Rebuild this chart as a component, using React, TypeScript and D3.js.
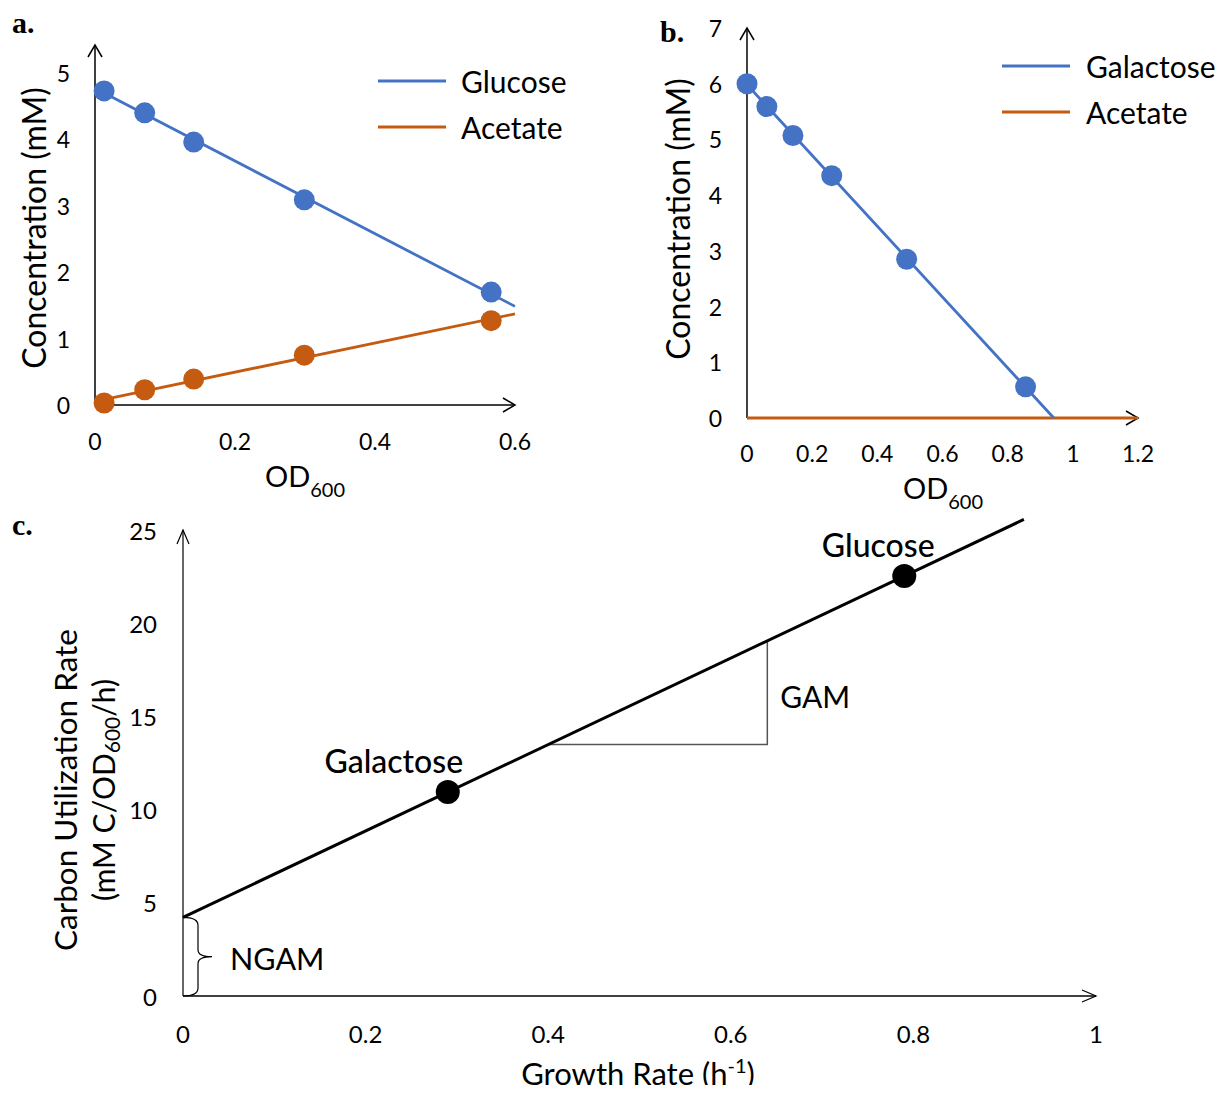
import React from 'react'
import * as d3 from 'd3'

const FONT = 'Lato, "Open Sans", sans-serif'
const SERIF = '"Liberation Serif", "DejaVu Serif", serif'
const BLUE = '#4472C4'
const ORANGE = '#C55A11'

// panel a: glucose culture
const odA = [0.013, 0.071, 0.141, 0.299, 0.566]
const glucoseA = [4.73, 4.4, 3.96, 3.09, 1.7]
const acetateA = [0.03, 0.23, 0.39, 0.75, 1.27]
const ticksAx = [0, 0.2, 0.4, 0.6]
const ticksAy = [0, 1, 2, 3, 4, 5]

// panel b: galactose culture
const odB = [0, 0.061, 0.141, 0.26, 0.49, 0.855]
const galactoseB = [6.0, 5.59, 5.07, 4.35, 2.85, 0.56]
const acetateB = [0, 0, 0, 0, 0, 0]
const ticksBx = [0, 0.2, 0.4, 0.6, 0.8, 1, 1.2]
const ticksBy = [0, 1, 2, 3, 4, 5, 6, 7]

// panel c: carbon uptake vs growth rate
const sources = ['Galactose', 'Glucose']
const growthRate = [0.29, 0.79]
const carbonRate = [10.94, 22.53]
const ticksCx = [0, 0.2, 0.4, 0.6, 0.8, 1]
const ticksCy = [0, 5, 10, 15, 20, 25]

const TICK = 23

// least squares line
const fit = (xs: number[], ys: number[]) => {
  const mx = d3.mean(xs) as number
  const my = d3.mean(ys) as number
  let sxy = 0
  let sxx = 0
  xs.forEach((x, i) => {
    sxy += (x - mx) * (ys[i] - my)
    sxx += (x - mx) ** 2
  })
  const m = sxx ? sxy / sxx : 0
  return { m, b: my - m * mx }
}

const line = d3.line<[number, number]>()

const Arrow = ({ x, y, dir, w = 7, l = 12, sw = 1.5 }: any) => {
  const d =
    dir === 'up'
      ? `M${x - w},${y + l}L${x},${y}L${x + w},${y + l}`
      : `M${x - l},${y - w}L${x},${y}L${x - l},${y + w}`
  return <path d={d} fill="none" stroke="#000" strokeWidth={sw} />
}

const OD = ({ x, y }: any) => (
  <text x={x} y={y} textAnchor="middle" fontSize={29} fontFamily={FONT}>
    OD<tspan fontSize={20} dy={10}>600</tspan>
  </text>
)

const PanelA = () => {
  const x = d3.scaleLinear([0, 0.6], [95, 515])
  const y = d3.scaleLinear([0, 5], [405, 73])
  const g = fit(odA, glucoseA)
  const a = fit(odA, acetateA)
  const series = [
    { ys: glucoseA, f: g, c: BLUE, name: 'Glucose' },
    { ys: acetateA, f: a, c: ORANGE, name: 'Acetate' },
  ]
  return (
    <g>
      <text x={12} y={33} fontFamily={SERIF} fontWeight="bold" fontSize={30}>a.</text>
      <line x1={x(0)} x2={x(0)} y1={y(0)} y2={45} stroke="#000" strokeWidth={1.5} />
      <line x1={x(0)} x2={x(0.6)} y1={y(0)} y2={y(0)} stroke="#000" strokeWidth={1.5} />
      <Arrow x={x(0)} y={45} dir="up" />
      <Arrow x={x(0.6)} y={y(0)} dir="right" />
      {ticksAy.map(t => (
        <text key={t} x={70} y={y(t)} textAnchor="end" dominantBaseline="central" fontSize={TICK} fontFamily={FONT}>{t}</text>
      ))}
      {ticksAx.map(t => (
        <text key={t} x={x(t)} y={441} textAnchor="middle" dominantBaseline="central" fontSize={TICK} fontFamily={FONT}>{t}</text>
      ))}
      <text transform={`translate(33,228) rotate(-90)`} textAnchor="middle" dominantBaseline="central" fontSize={32} fontFamily={FONT}>Concentration (mM)</text>
      <OD x={305} y={487} />
      {series.map(s => (
        <g key={s.name}>
          <path d={line([[x(0), y(s.f.b)], [x(0.6), y(s.f.b + s.f.m * 0.6)]])!} stroke={s.c} strokeWidth={2.8} fill="none" />
          {odA.map((v, i) => (
            <circle key={i} cx={x(v)} cy={y(s.ys[i])} r={10.5} fill={s.c} />
          ))}
        </g>
      ))}
      {series.map((s, i) => (
        <g key={s.name} transform={`translate(0,${81 + i * 46})`}>
          <line x1={378} x2={446} stroke={s.c} strokeWidth={3} />
          <text x={461} dominantBaseline="central" fontSize={30} fontFamily={FONT}>{s.name}</text>
        </g>
      ))}
    </g>
  )
}

const PanelB = () => {
  const x = d3.scaleLinear([0, 1.2], [747, 1138])
  const y = d3.scaleLinear([0, 7], [418, 28])
  const g = fit(odB, galactoseB)
  const a = fit(odB, acetateB)
  const xEnd = -g.b / g.m
  return (
    <g>
      <text x={660} y={42} fontFamily={SERIF} fontWeight="bold" fontSize={30}>b.</text>
      <line x1={x(0)} x2={x(0)} y1={y(0)} y2={y(7)} stroke="#000" strokeWidth={1.5} />
      <line x1={x(0)} x2={x(1.2)} y1={y(0)} y2={y(0)} stroke="#000" strokeWidth={1.5} />
      <Arrow x={x(0)} y={y(7)} dir="up" />
      <Arrow x={x(1.2)} y={y(0)} dir="right" />
      {ticksBy.map(t => (
        <text key={t} x={722} y={y(t)} textAnchor="end" dominantBaseline="central" fontSize={TICK} fontFamily={FONT}>{t}</text>
      ))}
      {ticksBx.map(t => (
        <text key={t} x={x(t)} y={453} textAnchor="middle" dominantBaseline="central" fontSize={TICK} fontFamily={FONT}>{t}</text>
      ))}
      <text transform={`translate(677,219) rotate(-90)`} textAnchor="middle" dominantBaseline="central" fontSize={32} fontFamily={FONT}>Concentration (mM)</text>
      <OD x={943} y={499} />
      <path d={line([[x(0), y(a.b)], [x(1.2), y(a.b + a.m * 1.2)]])!} stroke={ORANGE} strokeWidth={2.8} fill="none" />
      <path d={line([[x(0), y(g.b)], [x(xEnd), y(0)]])!} stroke={BLUE} strokeWidth={2.8} fill="none" />
      {odB.map((v, i) => (
        <circle key={i} cx={x(v)} cy={y(galactoseB[i])} r={10.5} fill={BLUE} />
      ))}
      {[
        { name: 'Galactose', c: BLUE },
        { name: 'Acetate', c: ORANGE },
      ].map((s, i) => (
        <g key={s.name} transform={`translate(0,${66 + i * 46})`}>
          <line x1={1002} x2={1070} stroke={s.c} strokeWidth={3} />
          <text x={1086} dominantBaseline="central" fontSize={30} fontFamily={FONT}>{s.name}</text>
        </g>
      ))}
    </g>
  )
}

const PanelC = () => {
  const x = d3.scaleLinear([0, 1], [183, 1096])
  const y = d3.scaleLinear([0, 25], [996, 530])
  const f = fit(growthRate, carbonRate)
  const at = (v: number) => f.b + f.m * v
  const xMax = 0.921
  const gam = [0.4, 0.64]
  const yb = y(f.b)
  const bx = x(0) + 15
  const my = (yb + y(0)) / 2
  const brace = `M${x(0)},${yb}Q${bx},${yb} ${bx},${yb + 8}L${bx},${my - 7}Q${bx},${my} ${bx + 14},${my}Q${bx},${my} ${bx},${my + 7}L${bx},${y(0) - 8}Q${bx},${y(0)} ${x(0)},${y(0)}`
  return (
    <g>
      <text x={12} y={535} fontFamily={SERIF} fontWeight="bold" fontSize={30}>c.</text>
      <line x1={x(0)} x2={x(0)} y1={y(0)} y2={y(25)} stroke="#000" strokeWidth={1.2} />
      <line x1={x(0)} x2={x(1)} y1={y(0)} y2={y(0)} stroke="#000" strokeWidth={1.5} />
      <Arrow x={x(0)} y={y(25)} dir="up" w={6} l={14} sw={1.2} />
      <Arrow x={x(1)} y={y(0)} dir="right" w={6} l={14} sw={1.2} />
      {ticksCy.map(t => (
        <text key={t} x={157} y={y(t)} textAnchor="end" dominantBaseline="central" fontSize={TICK + 1} fontFamily={FONT}>{t}</text>
      ))}
      {ticksCx.map(t => (
        <text key={t} x={x(t)} y={1033} textAnchor="middle" dominantBaseline="central" fontSize={TICK + 1} fontFamily={FONT}>{t}</text>
      ))}
      <text transform={`translate(65,790) rotate(-90)`} textAnchor="middle" dominantBaseline="central" fontSize={31.5} fontFamily={FONT}>Carbon Utilization Rate</text>
      <text transform={`translate(103,790) rotate(-90)`} textAnchor="middle" dominantBaseline="central" fontSize={30} fontFamily={FONT}>
        (mM C/OD<tspan fontSize={21} dy={8}>600</tspan><tspan dy={-8}>/h)</tspan>
      </text>
      <text x={638} y={1085} textAnchor="middle" fontSize={31} fontFamily={FONT}>
        Growth Rate (h<tspan fontSize={20} dy={-12}>-1</tspan><tspan dy={12}>)</tspan>
      </text>
      <path d={line([[x(gam[0]), y(at(gam[0]))], [x(gam[1]), y(at(gam[0]))], [x(gam[1]), y(at(gam[1]))]])!} stroke="#555" strokeWidth={1.5} fill="none" />
      <text x={x(gam[1]) + 13} y={708} fontSize={30} fontFamily={FONT}>GAM</text>
      <path d={brace} fill="none" stroke="#000" strokeWidth={1.2} />
      <text x={230} y={970} fontSize={30.5} fontFamily={FONT}>NGAM</text>
      <path d={line([[x(0), y(at(0))], [x(xMax), y(at(xMax))]])!} stroke="#000" strokeWidth={3} fill="none" />
      {growthRate.map((v, i) => (
        <g key={sources[i]}>
          <circle cx={x(v)} cy={y(carbonRate[i])} r={12} fill="#000" />
          <text x={x(v) + (i === 0 ? -54 : -26)} y={y(carbonRate[i]) - 19} textAnchor="middle" fontSize={32} fontFamily={FONT} fontWeight={500}>{sources[i]}</text>
        </g>
      ))}
    </g>
  )
}

export default function App() {
  return (
    <svg width={1223} height={1093} style={{ display: 'block', margin: -8, background: '#fff' }}>
      <rect width={1223} height={1093} fill="#fff" />
      <PanelA />
      <PanelB />
      <PanelC />
    </svg>
  )
}
